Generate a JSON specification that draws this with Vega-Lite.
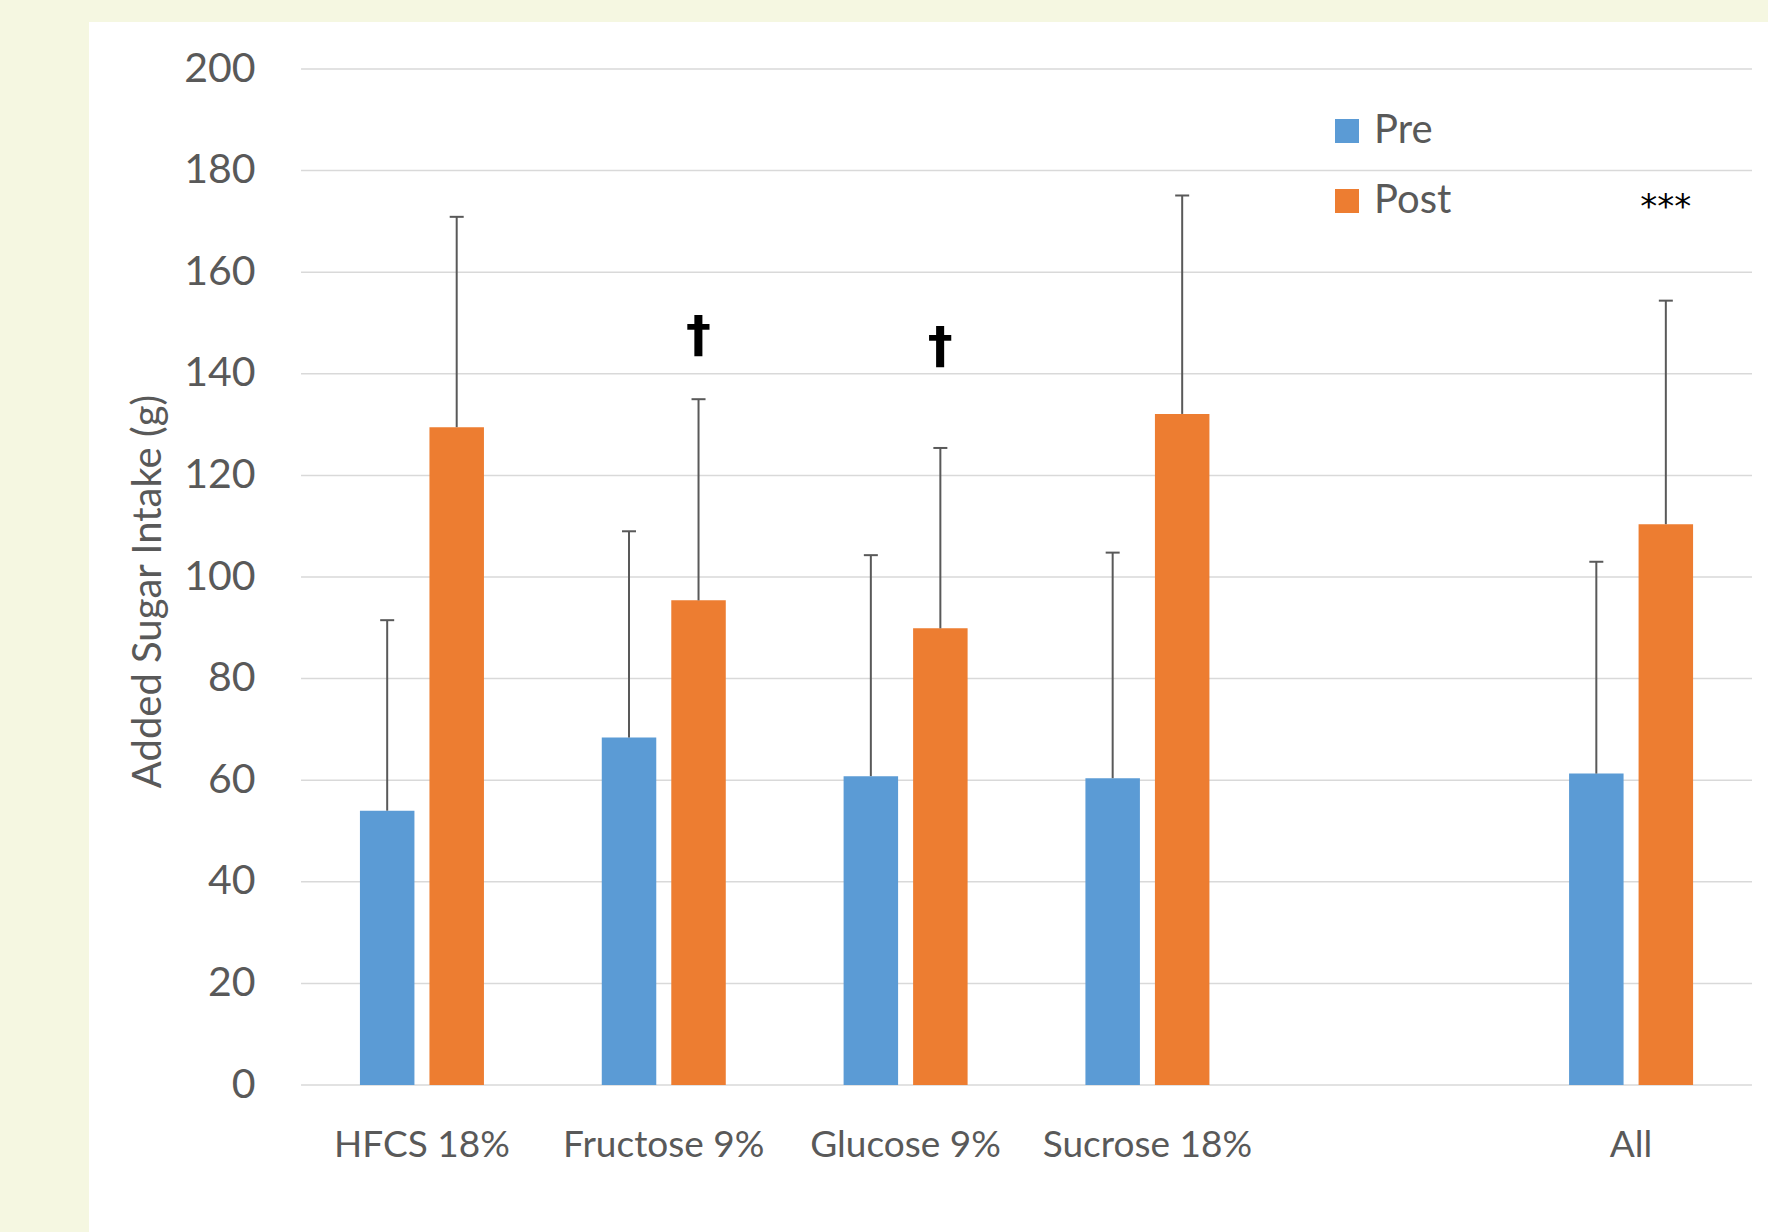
{
  "$schema": "https://vega.github.io/schema/vega-lite/v6.json",
  "width": 1679,
  "height": 1210,
  "autosize": "none",
  "padding": {"left": 89, "top": 22, "right": 0, "bottom": 0},
  "background": "#F5F7E1",
  "config": {"view": {"stroke": null, "fill": "#FFFFFF"}, "font": "Lato"},
  "datasets": {
    "main": [
      {"cat": "HFCS 18%", "group": "Pre", "value": 54.0, "upper": 91.5},
      {"cat": "HFCS 18%", "group": "Post", "value": 129.5, "upper": 170.9},
      {"cat": "Fructose 9%", "group": "Pre", "value": 68.4, "upper": 109.0},
      {"cat": "Fructose 9%", "group": "Post", "value": 95.4, "upper": 135.0},
      {"cat": "Glucose 9%", "group": "Pre", "value": 60.8, "upper": 104.3},
      {"cat": "Glucose 9%", "group": "Post", "value": 89.9, "upper": 125.4},
      {"cat": "Sucrose 18%", "group": "Pre", "value": 60.4, "upper": 104.8},
      {"cat": "Sucrose 18%", "group": "Post", "value": 132.1, "upper": 175.1},
      {"cat": "All", "group": "Pre", "value": 61.3, "upper": 103.0},
      {"cat": "All", "group": "Post", "value": 110.4, "upper": 154.4}
    ],
    "grid": [
      {"v": 0}, {"v": 20}, {"v": 40}, {"v": 60}, {"v": 80}, {"v": 100},
      {"v": 120}, {"v": 140}, {"v": 160}, {"v": 180}, {"v": 200}
    ],
    "notes": [
      {"cat": "Fructose 9%", "group": "Post", "label": "†", "pos": 147.4},
      {"cat": "Glucose 9%", "group": "Post", "label": "†", "pos": 145.3},
      {"cat": "All", "group": "Post", "label": "***", "pos": 172.6}
    ]
  },
  "layer": [
    {
      "data": {"name": "grid"},
      "mark": {"type": "rule", "color": "#D9D9D9", "strokeWidth": 1.5},
      "encoding": {
        "x": {
          "datum": "HFCS 18%",
          "bandPosition": 0,
          "type": "nominal",
          "title": null,
          "scale": {
            "domain": ["HFCS 18%", "Fructose 9%", "Glucose 9%", "Sucrose 18%", " ", "All"],
            "paddingInner": 0,
            "paddingOuter": 0.4715,
            "align": 0.9298
          },
          "axis": {
            "orient": "bottom",
            "offset": -147,
            "domain": false,
            "ticks": false,
            "grid": false,
            "labelPadding": 60,
            "labelBaseline": "middle",
            "labelFontSize": 37,
            "labelColor": "#595959",
            "labelFont": "Lato",
            "labelAngle": 0,
            "labelLimit": 0,
            "title": null
          }
        },
        "x2": {"datum": "All", "bandPosition": 1},
        "y": {
          "field": "v",
          "type": "quantitative",
          "title": "Added Sugar Intake (g)",
          "scale": {"domain": [-28.937, 209.252], "nice": false, "zero": false},
          "axis": {
            "values": [0, 20, 40, 60, 80, 100, 120, 140, 160, 180, 200],
            "grid": false,
            "domain": false,
            "ticks": false,
            "tickSize": 0,
            "labelPadding": 0,
            "offset": -166,
            "labelFontSize": 41,
            "labelColor": "#595959",
            "labelFont": "Lato",
            "title": "Added Sugar Intake (g)",
            "titleFont": "Lato",
            "titleFontSize": 40,
            "titleFontWeight": "normal",
            "titleColor": "#595959",
            "titleX": -107,
            "titleY": 569,
            "titleAngle": -90,
            "titleAlign": "center",
            "titleBaseline": "middle"
          }
        }
      }
    },
    {
      "data": {"name": "main"},
      "mark": {"type": "bar"},
      "encoding": {
        "x": {"field": "cat", "type": "nominal", "title": null},
        "xOffset": {
          "field": "group",
          "type": "nominal",
          "scale": {"domain": ["Pre", "Post"], "paddingInner": 0.216, "paddingOuter": 0.8475}
        },
        "y": {"field": "value", "type": "quantitative", "title": "Added Sugar Intake (g)"},
        "y2": {"datum": 0},
        "color": {
          "field": "group",
          "type": "nominal",
          "scale": {"domain": ["Pre", "Post"], "range": ["#5B9BD5", "#ED7D31"]},
          "legend": {
            "title": null,
            "orient": "none",
            "legendX": 1238,
            "legendY": 89,
            "padding": 0,
            "symbolType": "square",
            "symbolSize": 576,
            "symbolStrokeWidth": 0,
            "symbolOpacity": 1,
            "labelFont": "Lato",
            "labelFontSize": 40,
            "labelColor": "#595959",
            "labelOffset": 7,
            "rowPadding": 30
          }
        }
      }
    },
    {
      "data": {"name": "main"},
      "mark": {"type": "rule", "color": "#595959", "strokeWidth": 2},
      "encoding": {
        "x": {"field": "cat", "type": "nominal", "title": null},
        "xOffset": {"field": "group", "type": "nominal"},
        "y": {"field": "value", "type": "quantitative", "title": "Added Sugar Intake (g)"},
        "y2": {"field": "upper"}
      }
    },
    {
      "data": {"name": "main"},
      "mark": {"type": "tick", "orient": "horizontal", "color": "#595959", "size": 14, "thickness": 2, "opacity": 1},
      "encoding": {
        "x": {"field": "cat", "type": "nominal", "title": null},
        "xOffset": {"field": "group", "type": "nominal"},
        "y": {"field": "upper", "type": "quantitative", "title": "Added Sugar Intake (g)"}
      }
    },
    {
      "data": {"name": "notes"},
      "transform": [{"filter": {"field": "label", "equal": "†"}}],
      "mark": {"type": "text", "color": "#000000", "font": "DejaVu Sans", "fontSize": 50, "fontWeight": "bold", "baseline": "middle", "align": "center"},
      "encoding": {
        "x": {"field": "cat", "type": "nominal", "title": null},
        "xOffset": {"field": "group", "type": "nominal"},
        "y": {"field": "pos", "type": "quantitative", "title": "Added Sugar Intake (g)"},
        "text": {"field": "label"}
      }
    },
    {
      "data": {"name": "notes"},
      "transform": [{"filter": {"field": "label", "equal": "***"}}],
      "mark": {"type": "text", "color": "#000000", "font": "DejaVu Sans", "fontSize": 34, "fontWeight": "normal", "baseline": "middle", "align": "center"},
      "encoding": {
        "x": {"field": "cat", "type": "nominal", "title": null},
        "xOffset": {"field": "group", "type": "nominal"},
        "y": {"field": "pos", "type": "quantitative", "title": "Added Sugar Intake (g)"},
        "text": {"field": "label"}
      }
    }
  ]
}
